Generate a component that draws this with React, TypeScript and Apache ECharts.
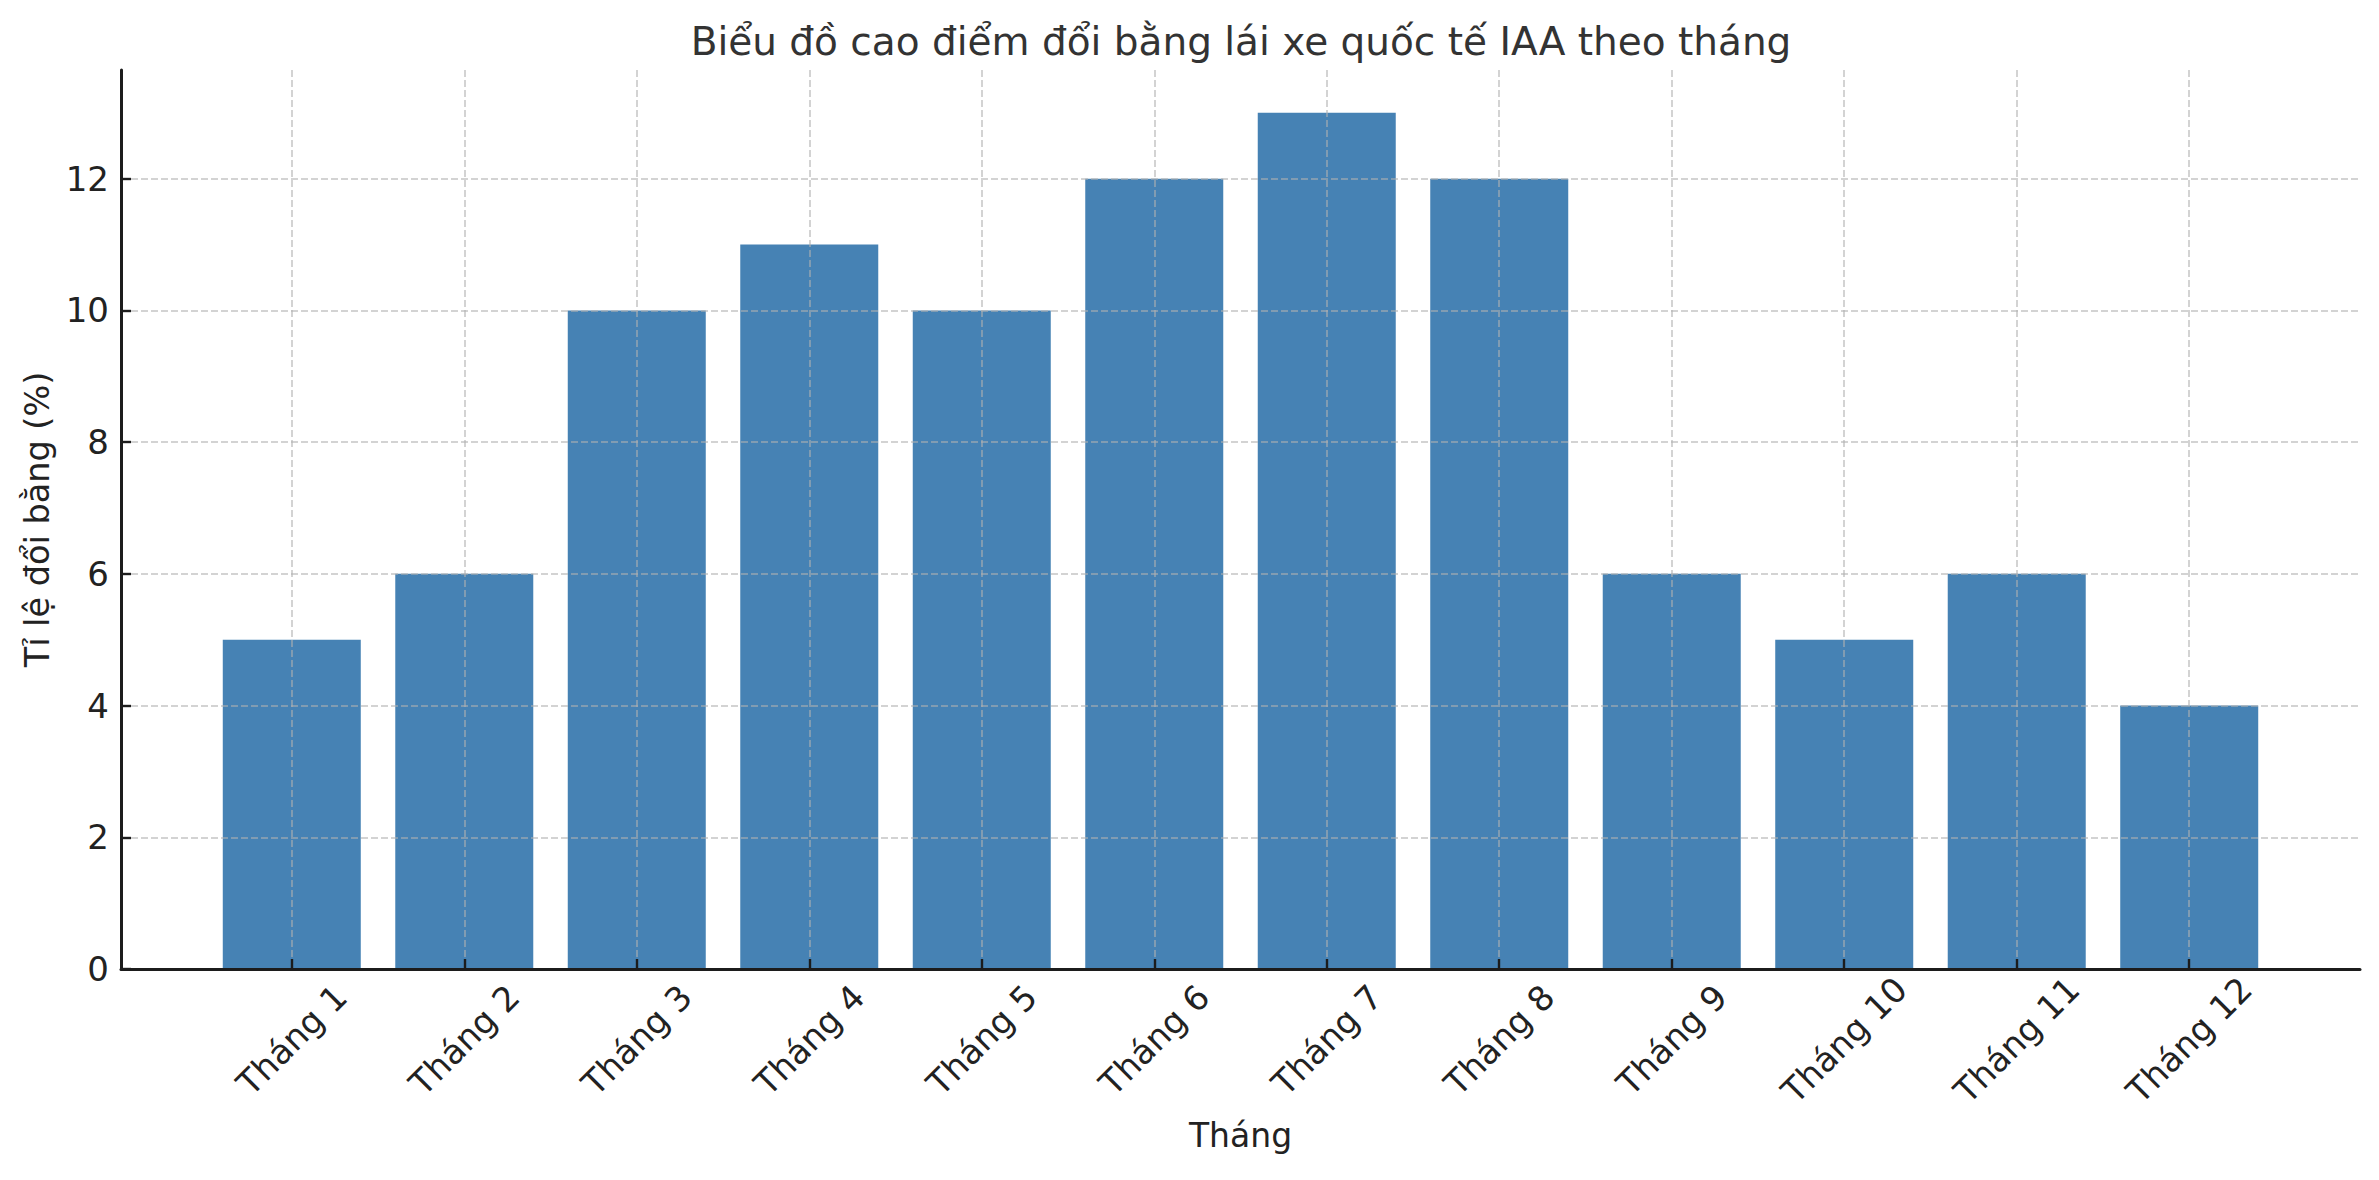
import React, { useEffect, useRef } from "react";
import * as echarts from "echarts";

const TITLE = "Biểu đồ cao điểm đổi bằng lái xe quốc tế IAA theo tháng";
const X_NAME = "Tháng";
const Y_NAME = "Tỉ lệ đổi bằng (%)";
const categories = [
  "Tháng 1", "Tháng 2", "Tháng 3", "Tháng 4", "Tháng 5", "Tháng 6",
  "Tháng 7", "Tháng 8", "Tháng 9", "Tháng 10", "Tháng 11", "Tháng 12",
];
const values = [5, 6, 10, 11, 10, 12, 13, 12, 6, 5, 6, 4];
const yTicks = [0, 2, 4, 6, 8, 10, 12];

const BAR_WIDTH = 0.8;
const FONT = "DejaVu Sans";

export default function App() {
  const ref = useRef<HTMLDivElement>(null);
  useEffect(() => {
    document.body.style.margin = "0";
    const chart = echarts.init(ref.current!, null, { renderer: "svg" });
    const xIdx = categories.map((_, i) => i);
    const n = categories.length;
    const span = n - 1 + BAR_WIDTH;
    const pad = span * 0.05;
    const xMin = -BAR_WIDTH / 2 - pad;
    const xMax = n - 1 + BAR_WIDTH / 2 + pad;
    const yMax = Math.max(...values) * 1.05;
    const gridLine = {
      show: true,
      lineStyle: { color: "rgba(176,176,176,0.75)", width: 1.5, type: [7, 3] as any },
    };
    const axisColor = "#1c1c1c";
    chart.setOption({
      animation: false,
      backgroundColor: "#ffffff",
      title: {
        text: TITLE,
        left: 1236,
        top: 17,
        textAlign: "center",
        textStyle: { fontFamily: FONT, fontSize: 39, fontWeight: "normal", color: "#333333" },
      },
      grid: { left: 121, right: 19, top: 70, bottom: 211, containLabel: false },
      xAxis: {
        type: "value",
        min: xMin,
        max: xMax,
        z: 5,
        name: X_NAME,
        nameLocation: "middle",
        nameGap: 150,
        nameTextStyle: { fontFamily: FONT, fontSize: 33, color: "#222222" },
        axisLine: { show: true, onZero: false, lineStyle: { color: axisColor, width: 3 } },
        axisTick: {
          show: true, inside: true, length: 10, customValues: xIdx,
          lineStyle: { color: axisColor, width: 2.4 },
        },
        axisLabel: {
          customValues: xIdx,
          rotate: 45,
          align: "center",
          verticalAlign: "middle",
          margin: 71,
          fontFamily: FONT,
          fontSize: 34,
          color: "#222222",
          formatter: (v: number) => categories[Math.round(v)] ?? "",
        },
        splitLine: gridLine,
      },
      yAxis: {
        type: "value",
        min: 0,
        max: yMax,
        z: 5,
        name: Y_NAME,
        nameLocation: "middle",
        nameRotate: 90,
        nameGap: 66,
        nameTextStyle: { fontFamily: FONT, fontSize: 33.5, color: "#222222" },
        axisLine: { show: true, onZero: false, lineStyle: { color: axisColor, width: 3 } },
        axisTick: {
          show: true, inside: true, length: 10, customValues: yTicks,
          lineStyle: { color: axisColor, width: 2.4 },
        },
        axisLabel: {
          customValues: yTicks,
          margin: 12,
          fontFamily: FONT,
          fontSize: 34,
          color: "#222222",
        },
        splitLine: gridLine,
      },
      series: [
        {
          type: "custom",
          z: 2,
          data: values.map((v, i) => [i, v]),
          renderItem: (params: any, api: any) => {
            const x = api.value(0);
            const y = api.value(1);
            const p0 = api.coord([x - BAR_WIDTH / 2, y]);
            const p1 = api.coord([x + BAR_WIDTH / 2, 0]);
            return {
              type: "rect",
              shape: { x: p0[0], y: p0[1], width: p1[0] - p0[0], height: p1[1] - p0[1] },
              style: { fill: "#4682B4" },
            };
          },
        },
      ],
    });
    return () => chart.dispose();
  }, []);
  return <div ref={ref} style={{ width: 2379, height: 1180 }} />;
}
